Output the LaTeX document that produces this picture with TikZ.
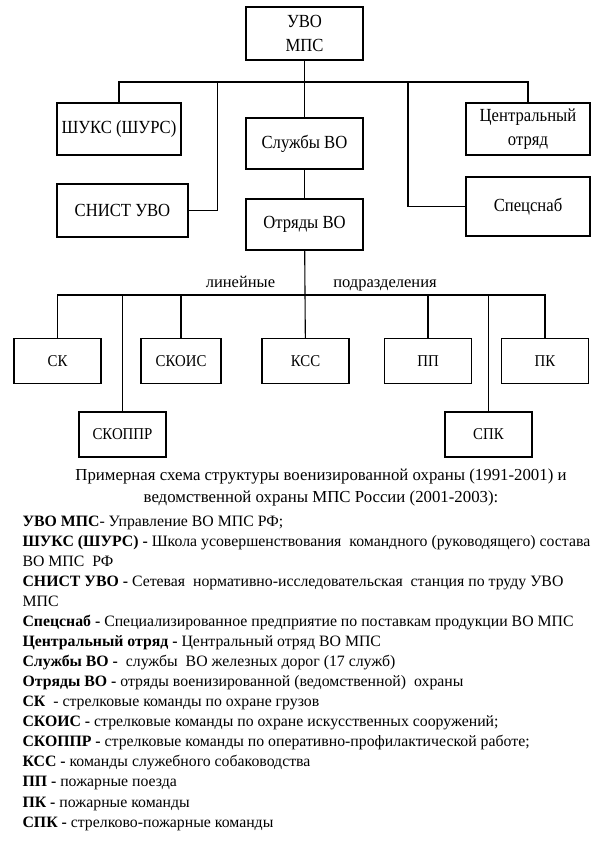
\documentclass[tikz,border=0pt]{standalone}
\usepackage{fontspec}
\setmainfont{Liberation Serif}
\newfontfamily\boxfont{Liberation Serif}[FakeStretch=0.9]
\usepackage{tikz}
\tikzstyle{box} = [rectangle,draw,text centered,align=center,inner sep=2pt,font=\boxfont\fontsize{18.5}{24}\selectfont]
\tikzstyle{unit} = [rectangle,draw,text centered,minimum width=87pt,minimum height=45pt,font=\boxfont\fontsize{16.5}{19}\selectfont]
\tikzstyle{word} = [anchor=base,inner sep=1pt,font=\fontsize{16.5}{19}\selectfont]

\begin{document}
\begin{tikzpicture}[x=1pt,y=-1pt,line width=1.1pt]
			\useasboundingbox (0,0) rectangle (600,841);
			% top level
			\node [box,minimum width=117pt,minimum height=53pt](uvo) at (304.5,33.5){УВО\\МПС};
			\node [box,minimum width=124pt,minimum height=52pt](shuks) at (119,129){ШУКС (ШУРС)};
			\node [box,minimum width=117pt,minimum height=51pt](sluzhby) at (304.5,143.5){Службы ВО};
			\node [box,minimum width=124pt,minimum height=52pt](central) at (528,129){Центральный\\отряд};
			\node [box,minimum width=131pt,minimum height=53pt](snist) at (122.5,210.5){СНИСТ УВО};
			\node [box,minimum width=124pt,minimum height=59pt](specsnab) at (528,206.5){Спецснаб};
			\node [box,minimum width=117pt,minimum height=51pt](otryady) at (304.5,224.5){Отряды ВО};
			% linear units
			\node [unit](sk) at (57.5,361){СК};
			\node [unit,minimum width=80pt](skois) at (181,361){СКОИС};
			\node [unit](kss) at (305.5,361){КСС};
			\node [unit](pp) at (428,361){ПП};
			\node [unit](pk) at (545,361){ПК};
			\node [unit](skoppr) at (122.5,434.5){СКОППР};
			\node [unit](spk) at (488.5,434.5){СПК};
			\node [word](lin) at (240.5,287.5){линейные};
			\node [word](podr) at (385,287.5){подразделения};
			
			\coordinate (busl) at (119,82);
			\coordinate (busr) at (528,82);
			\coordinate (sn) at (217.5,82);
			\coordinate (sp) at (408,82);
			\coordinate (lowl) at (57.5,295);
			\coordinate (lowr) at (545,295);
			
			\draw[-](uvo)--(sluzhby);
			\draw[-](sluzhby)--(otryady);
			\draw[-](shuks.north)--(busl)--(busr)--(central.north);
			\draw[-](snist.east)-|(sn);
			\draw[-](specsnab.west)-|(sp);
			\draw[-](otryady)--(kss);
			\draw[-](sk.north)--(lowl)--(lowr)--(pk.north);
			\draw[-](skoppr.north)--(skoppr.north|-lowl);
			\draw[-](skois.north)--(skois.north|-lowl);
			\draw[-](pp.north)--(pp.north|-lowl);
			\draw[-](spk.north)--(spk.north|-lowl);
			
			% caption and legend
			\node [align=center,font=\fontsize{16.8}{22}\selectfont](title) at (321,487){Примерная схема структуры военизированной охраны (1991-2001) и\\ведомственной охраны МПС России (2001-2003):};
			\node [anchor=north west,align=left,inner sep=0pt,font=\fontsize{15.8}{20.07}\selectfont](legend) at (22,515){%
\textbf{УВО МПС}- Управление ВО МПС РФ;\\
\textbf{ШУКС (ШУРС) -} Школа усовершенствования\ \ командного (руководящего) состава\\
ВО МПС\ \ РФ\\
\textbf{СНИСТ УВО -} Сетевая\ \ нормативно-исследовательская\ \ станция по труду УВО\\
МПС\\
\textbf{Спецснаб -} Специализированное предприятие по поставкам продукции ВО МПС\\
\textbf{Центральный отряд -} Центральный отряд ВО МПС\\
\textbf{Службы ВО -}\ \ службы\ \ ВО железных дорог (17 служб)\\
\textbf{Отряды ВО -} отряды военизированной (ведомственной)\ \ охраны\\
\textbf{СК}\ \ - стрелковые команды по охране грузов\\
\textbf{СКОИС -} стрелковые команды по охране искусственных сооружений;\\
\textbf{СКОППР -} стрелковые команды по оперативно-профилактической работе;\\
\textbf{КСС -} команды служебного собаководства\\
\textbf{ПП -} пожарные поезда\\
\textbf{ПК -} пожарные команды\\
\textbf{СПК -} стрелково-пожарные команды};
			\end{tikzpicture}
\end{document}
